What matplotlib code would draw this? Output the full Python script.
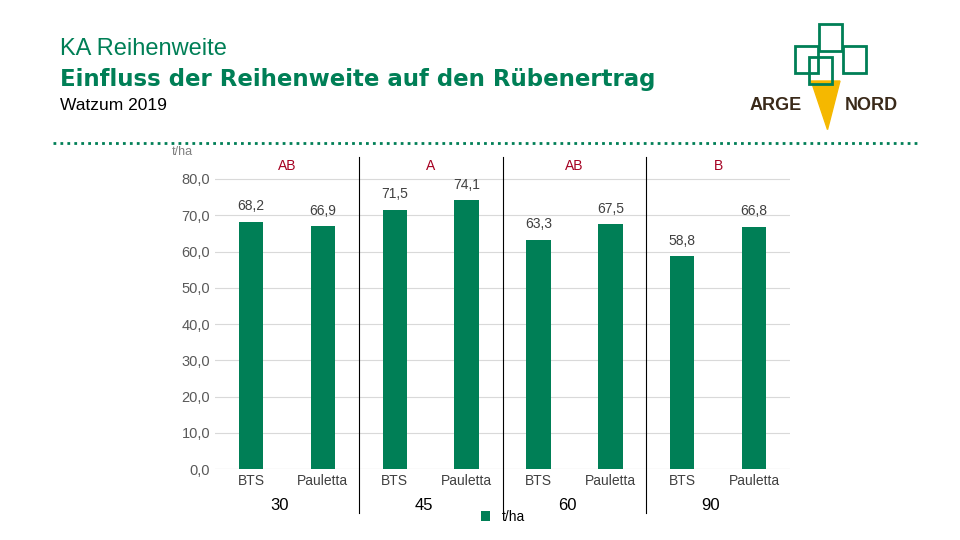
import matplotlib.pyplot as plt
from matplotlib.lines import Line2D

plt.rcParams['font.family'] = ['Liberation Sans', 'DejaVu Sans']

GREEN = '#007F56'
rows = ['30', '45', '60', '90']
sorts = ['BTS', 'Pauletta']
values = [68.2, 66.9, 71.5, 74.1, 63.3, 67.5, 58.8, 66.8]
letters = ['AB', 'A', 'AB', 'B']

fig = plt.figure(figsize=(9.6, 5.4), dpi=100)
ax = fig.add_axes([0.224, 0.131, 0.599, 0.578])

# bar positions inside each group
xs = [g + o for g in range(4) for o in (0.25, 0.75)]
ax.bar(xs, values, width=0.17, color=GREEN, zorder=3, label='t/ha')
for x, v in zip(xs, values):
    ax.text(x, v + 2.3, f'{v:.1f}'.replace('.', ','), ha='center', va='bottom',
            fontsize=10, color='#404040')
for g, l in enumerate(letters):
    ax.text(g + 0.5, 83.5, l, ha='center', va='center', fontsize=10, color='#A50021')

ax.set_xlim(0, 4)
ax.set_ylim(0, 86)
ax.set_yticks(range(0, 81, 10))
ax.set_yticklabels([f'{t},0' for t in range(0, 81, 10)], fontsize=10.5, color='#595959')
ax.yaxis.grid(True, color='#D9D9D9', lw=0.8, zorder=0)
ax.set_xticks(xs)
ax.set_xticklabels(sorts * 4, fontsize=10, color='#404040')
ax.tick_params(length=0)
for s in ax.spines.values():
    s.set_visible(False)
ax.axhline(0, color='#D9D9D9', lw=0.8)
for g in (1, 2, 3):
    ax.plot([g, g], [-12, 86], color='black', lw=0.8, clip_on=False)
for g, r in enumerate(rows):
    ax.text(g + 0.45, -10, r, ha='center', va='center', fontsize=12,
            transform=ax.transData)
ax.text(-0.3, 87.5, 't/ha', fontsize=9, color='#808080', ha='left', va='center')
ax.legend(loc='upper center', bbox_to_anchor=(0.5, -0.09), frameon=False,
          fontsize=10, handlelength=0.7, handleheight=0.7)

# title block
fig.text(0.062, 0.91, 'KA Reihenweite', fontsize=17, color=GREEN, va='center')
fig.text(0.062, 0.853, 'Einfluss der Reihenweite auf den Rübenertrag', fontsize=16.5,
         color=GREEN, fontweight='bold', va='center', family='DejaVu Sans')
fig.text(0.062, 0.805, 'Watzum 2019', fontsize=12.5, va='center')
fig.add_artist(Line2D([0.055, 0.955], [0.735, 0.735], color=GREEN, lw=2,
                      linestyle=(0, (1, 1.5)), transform=fig.transFigure))

# logo
fig.text(0.835, 0.805, 'ARGE', fontsize=13, fontweight='bold', color='#3A2A1A', ha='right', va='center')
fig.text(0.88, 0.805, 'NORD', fontsize=13, fontweight='bold', color='#3A2A1A', ha='left', va='center')
fig.add_artist(plt.Polygon([[0.845, 0.85], [0.875, 0.85], [0.862, 0.76]],
                           color='#F5B800', transform=fig.transFigure))
for cx, cy in [(0.84, 0.89), (0.865, 0.93), (0.89, 0.89), (0.855, 0.87)]:
    fig.add_artist(plt.Rectangle((cx - 0.012, cy - 0.025), 0.024, 0.05, fill=False,
                                 ec=GREEN, lw=2, transform=fig.transFigure))

fig.savefig('out.png', dpi=100)
